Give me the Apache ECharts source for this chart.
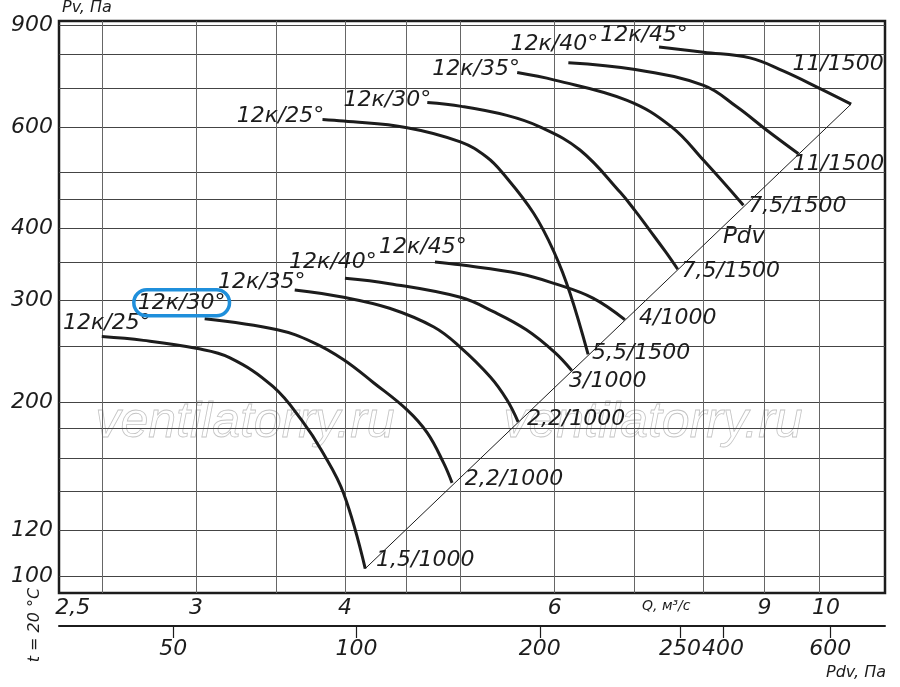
<!DOCTYPE html>
<html>
<head>
<meta charset="utf-8">
<title>Вентилятор 12к – аэродинамические характеристики</title>
<script src="https://cdn.jsdelivr.net/npm/echarts@6/dist/echarts.min.js"></script>
<style>
  html, body { margin: 0; padding: 0; background: #fff; }
  #chart { width: 900px; height: 687px; }
</style>
</head>
<body>
<div id="chart"></div>
<script>
// axes (log scales, values as printed on the chart)
const qGrid = [2.5, 3, 3.5, 4, 4.5, 5, 6, 7, 8, 9, 10];
const qLabels = [2.5, 3, 4, 6, 9, 10];
const pvGrid = [100, 120, 140, 160, 180, 200, 250, 300, 350, 400, 450, 500, 600, 700, 800, 900];
const pvLabels = [100, 120, 200, 300, 400, 600, 900];
const pdvTicks = [50, 100, 200, 340, 400, 600];
const pdvTickText = ['50', '100', '200', '250', '400', '600'];

const angles = ['12к/25°', '12к/30°', '12к/35°', '12к/40°', '12к/45°'];
const motors1000 = ['1,5/1000', '2,2/1000', '2,2/1000', '3/1000', '4/1000'];
const motors1500 = ['5,5/1500', '7,5/1500', '7,5/1500', '11/1500', '11/1500'];

// 1000 rpm curves: Q, м3/с  /  Pv, Па
const q25a = [2.50, 2.71, 3.00, 3.20, 3.48, 3.68, 3.83, 3.99, 4.16];
const p25a = [260, 256, 248, 239, 213, 186, 164, 139, 103];
const q30a = [3.05, 3.51, 3.76, 3.99, 4.23, 4.51, 4.69, 4.84, 4.92];
const p30a = [279, 267, 254, 237, 216, 194, 177, 157, 145];
const q35a = [3.63, 3.99, 4.36, 4.75, 5.00, 5.30, 5.47, 5.59];
const p35a = [313, 304, 291, 270, 249, 221, 202, 185];
const q40a = [4.00, 4.36, 5.00, 5.33, 5.68, 6.00, 6.20];
const p40a = [328, 321, 304, 287, 267, 244, 227];
const q45a = [4.76, 5.00, 5.61, 6.00, 6.46, 6.87];
const p45a = [350, 346, 334, 321, 303, 278];

// 1500 rpm curves
const q25b = [3.83, 3.99, 4.51, 5.00, 5.26, 5.43, 5.76, 6.00, 6.18, 6.40];
const p25b = [618, 614, 598, 565, 532, 498, 425, 362, 309, 242];
const q30b = [4.69, 5.01, 5.47, 5.83, 6.30, 6.81, 7.01, 7.21, 7.43, 7.61];
const p30b = [661, 651, 628, 600, 547, 462, 429, 397, 365, 340];
const q35b = [5.58, 6.00, 6.90, 7.52, 8.00, 8.64];
const p35b = [745, 723, 667, 600, 525, 439];
const q40b = [6.16, 7.01, 8.00, 8.53, 9.04, 9.61];
const p40b = [775, 754, 708, 650, 592, 539];
const q45b = [7.34, 8.00, 8.75, 9.33, 10.02, 10.64];
const p45b = [825, 808, 790, 750, 699, 657];

// Pdv line through the curve ends
const pdvLineQ = [4.16, 10.64];
const pdvLinePv = [103, 657];

const FONT = '"DejaVu Sans", "Noto Sans", sans-serif';
const INK = '#1c1c1c';
const lg = Math.log10;
const pts = (qs, ps) => qs.map((q, i) => [lg(q), lg(ps[i])]);

const curves = [
  { q: q25a, p: p25a, name: angles[0], motor: motors1000[0] },
  { q: q30a, p: p30a, name: angles[1], motor: motors1000[1] },
  { q: q35a, p: p35a, name: angles[2], motor: motors1000[2] },
  { q: q40a, p: p40a, name: angles[3], motor: motors1000[3] },
  { q: q45a, p: p45a, name: angles[4], motor: motors1000[4] },
  { q: q25b, p: p25b, name: angles[0], motor: motors1500[0] },
  { q: q30b, p: p30b, name: angles[1], motor: motors1500[1] },
  { q: q35b, p: p35b, name: angles[2], motor: motors1500[2] },
  { q: q40b, p: p40b, name: angles[3], motor: motors1500[3] },
  { q: q45b, p: p45b, name: angles[4], motor: motors1500[4] }
];

// where the texts sit relative to curve start / end (px)
const startOff = [[5, -13], [-23, -16], [-33, -8], [-12, -16], [-12, -15],
                  [-42, -3], [-40, -2], [-41, -3], [-14, -18], [-15, -12]];
const endOff = [[60, -8], [62, -4], [58, -3], [36, 11], [53, -1],
                [53, -1], [53, 2], [54, 1], [40, 11], [-13, -40]];

const labelFont = { fontFamily: FONT, fontStyle: 'italic', fontSize: 22, color: INK };
const tickFont = { fontFamily: FONT, fontStyle: 'italic', fontSize: 22, color: INK };

const series = curves.map((c, i) => {
  const data = pts(c.q, c.p);
  const startLabel = Object.assign({ formatter: c.name, offset: startOff[i] }, labelFont);
  if (i === 1) {
    // highlighted label in the source picture
    Object.assign(startLabel, {
      borderColor: '#1f8fdb', borderWidth: 3.5, borderRadius: 13,
      padding: [3, 4, 1, 4]
    });
  }
  return {
    type: 'line',
    name: c.name + ' ' + c.motor,
    data: data,
    smooth: 0.4,
    showSymbol: false,
    silent: true,
    lineStyle: { color: INK, width: 3 },
    markPoint: {
      symbol: 'circle',
      symbolSize: 0,
      silent: true,
      label: Object.assign({ show: true, position: 'inside' }, labelFont),
      data: [
        { coord: data[0], label: startLabel },
        { coord: data[data.length - 1],
          label: Object.assign({ formatter: c.motor, offset: endOff[i] }, labelFont) }
      ]
    }
  };
});

series.push({
  type: 'line',
  name: 'Pdv',
  data: pts(pdvLineQ, pdvLinePv),
  showSymbol: false,
  silent: true,
  lineStyle: { color: INK, width: 1 }
});

const chart = echarts.init(document.getElementById('chart'));

const watermark = x => ({
  type: 'text', x: x, y: 423, z: -1,
  style: {
    text: 'ventilatorry.ru', font: 'italic 50px "Liberation Sans", Arial, sans-serif',
    fill: 'rgba(255,255,255,0)', stroke: '#c4c4c4', lineWidth: 0.8,
    align: 'center', verticalAlign: 'middle'
  }
});

const option = {
  animation: false,
  backgroundColor: '#fff',
  grid: {
    left: 59, top: 21, right: 15, bottom: 94,
    show: true, borderColor: INK, borderWidth: 2.5
  },
  xAxis: [
    {
      type: 'value',
      min: lg(2.3016), max: lg(11.36),
      axisLine: { show: false },
      axisTick: { show: false, customValues: qGrid.map(lg) },
      splitLine: { show: true, lineStyle: { color: '#666', width: 1 } },
      axisLabel: Object.assign({
        customValues: qLabels.map(lg),
        margin: 4,
        formatter: function (v) {
          const q = Math.round(Math.pow(10, v) * 10) / 10;
          const s = String(q).replace('.', ',');
          if (q === 2.5) return '{a|' + s + '}';
          if (q === 10) return '{b|' + s + '}';
          return s;
        },
        rich: {
          a: Object.assign({ padding: [0, 58, 0, 0] }, tickFont),
          b: Object.assign({ padding: [0, 0, 0, 14] }, tickFont)
        }
      }, tickFont)
    },
    {
      type: 'value',
      position: 'bottom',
      offset: 33,
      min: 1.5114, max: 2.868,
      axisLine: { show: true, lineStyle: { color: INK, width: 2 } },
      axisTick: {
        show: true, length: 12, customValues: pdvTicks.map(lg),
        lineStyle: { color: INK, width: 1.2 }
      },
      splitLine: { show: false },
      axisLabel: Object.assign({
        customValues: pdvTicks.map(lg),
        margin: 12,
        formatter: function (v) {
          let best = 0;
          pdvTicks.forEach((t, i) => {
            if (Math.abs(lg(t) - v) < Math.abs(lg(pdvTicks[best]) - v)) best = i;
          });
          return pdvTickText[best];
        }
      }, tickFont)
    }
  ],
  yAxis: {
    type: 'value',
    min: lg(93.45), max: lg(915.2),
    axisLine: { show: false },
    axisTick: { show: false, customValues: pvGrid.map(lg) },
    splitLine: { show: true, lineStyle: { color: '#444', width: 1 } },
    axisLabel: Object.assign({
      customValues: pvLabels.map(lg),
      margin: 6,
      formatter: v => String(Math.round(Math.pow(10, v)))
    }, tickFont)
  },
  graphic: [
    { type: 'text', left: 62, top: 0,
      style: { text: 'Pv, Па', font: 'italic 16px ' + FONT, fill: INK } },
    { type: 'text', left: 642, top: 599,
      style: { text: 'Q, м³/с', font: 'italic 14px ' + FONT, fill: INK } },
    { type: 'text', left: 826, top: 665,
      style: { text: 'Pdv, Па', font: 'italic 16px ' + FONT, fill: INK } },
    { type: 'text', x: 35, y: 625, rotation: Math.PI / 2,
      style: { text: 't = 20 °C', font: 'italic 16px ' + FONT, fill: INK,
               align: 'center', verticalAlign: 'middle' } },
    { type: 'text', x: 744, y: 237,
      style: { text: 'Pdv', font: 'italic 23px ' + FONT, fill: INK,
               align: 'center', verticalAlign: 'middle' } },
    watermark(245),
    watermark(653)
  ],
  series: series
};

chart.setOption(option);
</script>
</body>
</html>
